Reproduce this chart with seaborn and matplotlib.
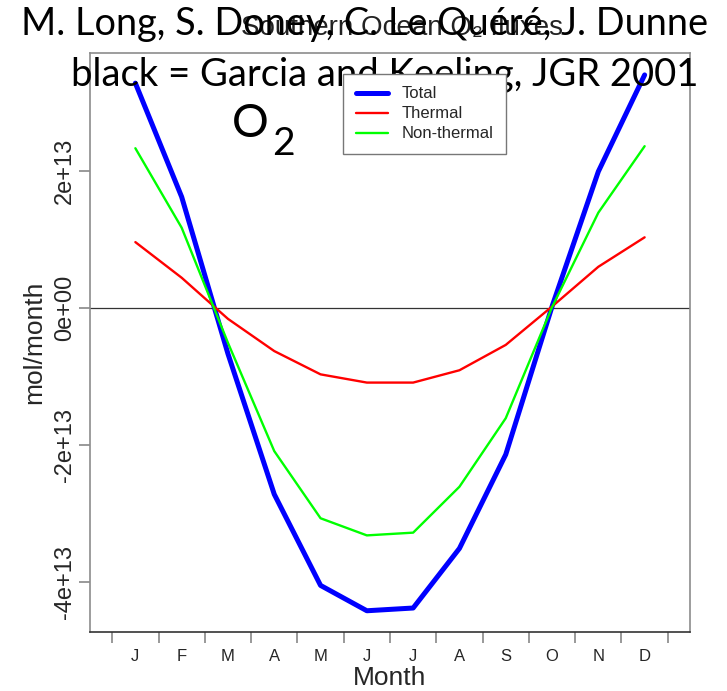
import matplotlib
matplotlib.use("Agg")
import matplotlib.pyplot as plt
from matplotlib.lines import Line2D
import seaborn as sns
import pandas as pd
import numpy as np

# ---- data (mol/month, units of 1e13) ----
months = ['J', 'F', 'M', 'A', 'M', 'J', 'J', 'A', 'S', 'O', 'N', 'D']
total = [3.28, 1.62, -0.67, -2.72, -4.05, -4.42, -4.38, -3.51, -2.14, 0.02, 1.99, 3.40]
thermal = [0.96, 0.44, -0.16, -0.63, -0.97, -1.09, -1.09, -0.91, -0.54, 0.02, 0.60, 1.03]
nonthermal = [2.33, 1.17, -0.51, -2.09, -3.07, -3.32, -3.28, -2.61, -1.61, 0.01, 1.39, 2.36]
series_names = ['Total', 'Thermal', 'Non-thermal']
series_colors = ['#0000FF', '#FF0000', '#00FF00']
ytick_values = [-4e13, -2e13, 0, 2e13]
ytick_labels = ['-4e+13', '-2e+13', '0e+00', '2e+13']
title = 'Southern Ocean O\u2082 fluxes'
overlay1 = 'M. Long, S. Doney, C. Le Quéré, J. Dunne'
overlay2 = 'black = Garcia and Keeling, JGR 2001'

scale = 1e13
df = pd.DataFrame({
    'month': list(range(1, 13)) * 3,
    'value': [v * scale for v in total + thermal + nonthermal],
    'series': sum([[s] * 12 for s in series_names], []),
})

sns.set_theme(style='white')
plt.rcParams['font.family'] = ['Liberation Sans', 'DejaVu Sans']

W, H = 727, 691
fig = plt.figure(figsize=(W / 100, H / 100), dpi=100)
ax = fig.add_axes([90 / W, 1 - 632 / H, 600 / W, 579 / H])

widths = {'Total': 3.6, 'Thermal': 1.7, 'Non-thermal': 1.7}
palette = dict(zip(series_names, series_colors))
for s in series_names:
    sns.lineplot(data=df[df.series == s], x='month', y='value', color=palette[s],
                 linewidth=widths[s], ax=ax, legend=False, zorder=3)

ax.axhline(0, color='#333333', linewidth=0.9, zorder=2)
ax.set_xlim(0.02, 12.98)
ax.set_ylim(-4.73e13, 3.72e13)

# x ticks: major at boundaries (marks), minor at centres (labels)
ax.set_xticks(np.arange(0.5, 13, 1.0))
ax.set_xticklabels([])
ax.set_xticks(range(1, 13), minor=True)
ax.set_xticklabels(months, minor=True, fontsize=12)
ax.tick_params(axis='x', which='major', length=8, width=1.2, color='#888888', direction='out', bottom=True)
ax.tick_params(axis='x', which='minor', length=0, pad=12, bottom=True)

ax.set_yticks(ytick_values)
ax.set_yticklabels(ytick_labels, fontsize=17, rotation=90, va='center')
ax.tick_params(axis='y', length=8, width=1.2, color='#888888', direction='out', left=True, pad=2)

ax.set_xlabel('Month', fontsize=19, labelpad=0)
ax.set_ylabel('mol/month', fontsize=19, labelpad=4)
ax.xaxis.set_label_coords(0.5, -0.058)
ax.yaxis.set_label_coords(-0.073, 0.5)

for side in ['left', 'top', 'right']:
    ax.spines[side].set_color('#8c8c8c')
    ax.spines[side].set_linewidth(1.2)
ax.spines['bottom'].set_color('#333333')
ax.spines['bottom'].set_linewidth(1.2)
ax.grid(False)

handles = [Line2D([], [], color=c, linewidth=widths[s]) for s, c in zip(series_names, series_colors)]
leg = fig.legend(handles, series_names, loc='upper left',
                 bbox_to_anchor=(343 / W, 1 - 74 / H), bbox_transform=fig.transFigure,
                 fontsize=12, frameon=True, fancybox=False, framealpha=1,
                 edgecolor='#777777', borderpad=0.75, handlelength=1.95,
                 handletextpad=0.8, labelspacing=0.3, borderaxespad=0)
leg.get_frame().set_linewidth(1.0)

# overlay texts
t_title = fig.text(402 / W, 1 - 35 / H, title, ha='center', va='baseline', fontsize=20,
                   family=['Liberation Sans', 'DejaVu Sans'], color='#222222')
t1 = fig.text(364.5 / W, 1 - 35 / H, overlay1, ha='center', va='baseline', fontsize=24,
              family=['Lato', 'DejaVu Sans'], color='black')
t2 = fig.text(385 / W, 1 - 86 / H, overlay2, ha='center', va='baseline', fontsize=24,
              family=['Lato', 'DejaVu Sans'], color='black')
tO = fig.text(232 / W, 1 - 136.7 / H, 'O', ha='left', va='baseline', fontsize=33,
              family=['Lato', 'DejaVu Sans'], color='black')
t2sub = fig.text(272 / W, 1 - 155 / H, '2', ha='left', va='baseline', fontsize=28,
                 family=['Lato', 'DejaVu Sans'], color='black')

# fit widths of overlay texts to measured extents
fig.canvas.draw()
r = fig.canvas.get_renderer()
for t, target in [(t1, 685), (t2, 628), (t_title, 322)]:
    w = t.get_window_extent(r).width
    t.set_fontsize(t.get_fontsize() * target / w)

fig.savefig('out.png', dpi=100)
